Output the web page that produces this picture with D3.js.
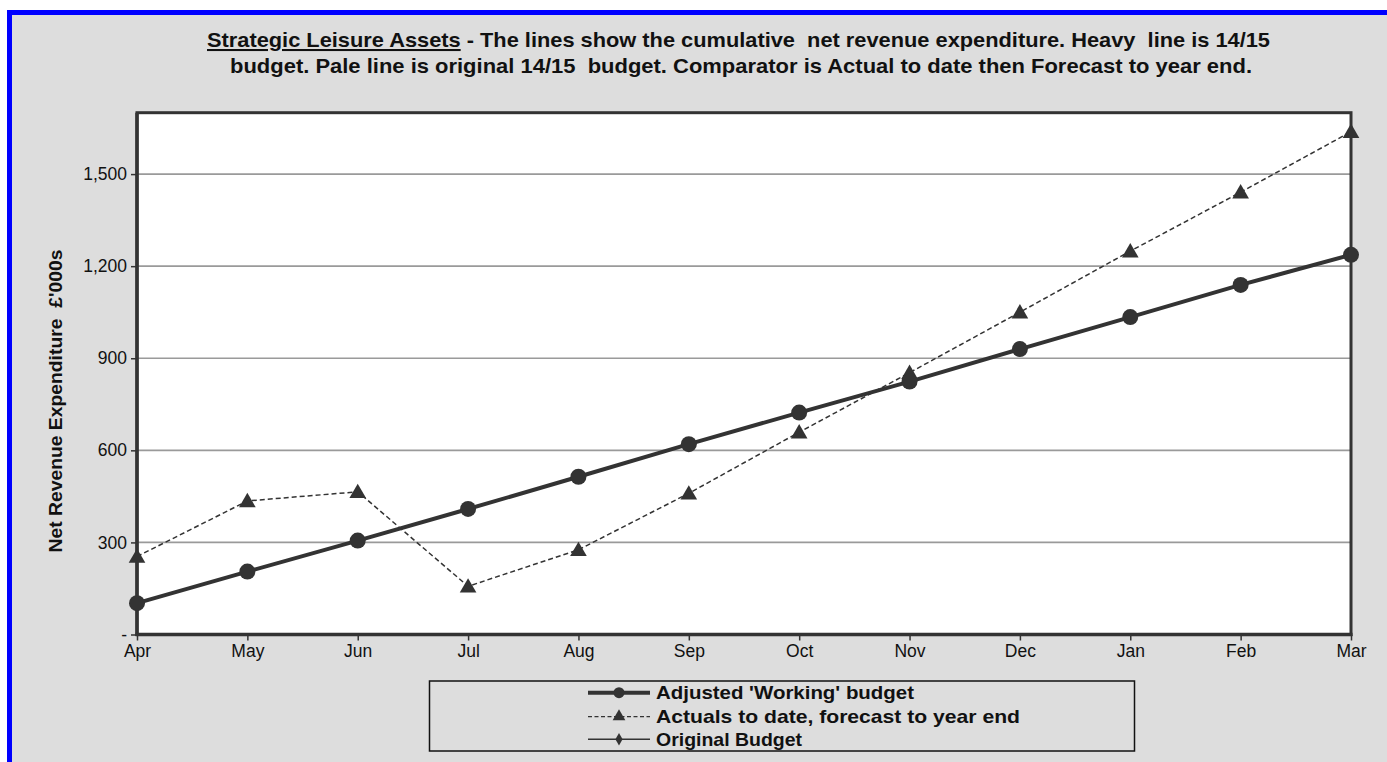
<!DOCTYPE html>
<html><head><meta charset="utf-8">
<script src="https://cdn.jsdelivr.net/npm/d3@7"></script>
<style>
html,body{margin:0;padding:0;background:#fff;}
svg{display:block;font-family:"Liberation Sans",Arial,sans-serif;}
</style></head>
<body>
<svg id="c" width="1387" height="762"></svg>
<script>
const months = ["Apr","May","Jun","Jul","Aug","Sep","Oct","Nov","Dec","Jan","Feb","Mar"];
const workingBudget = [102,205,306,409,514,620,723,824,930,1034,1139,1237];
const actualsForecast = [254,435,465,157,276,460,659,853,1050,1249,1441,1638];
const originalBudget = [102,205,306,409,514,620,723,824,930,1034,1139,1237];
const yTicks = [0,300,600,900,1200,1500];
const seriesNames = ["Adjusted 'Working' budget","Actuals to date, forecast to year end","Original Budget"];
const titleLine1Lead = "Strategic Leisure Assets";
const titleLine1Rest = " - The lines show the cumulative  net revenue expenditure. Heavy  line is 14/15";
const titleLine2 = "budget. Pale line is original 14/15  budget. Comparator is Actual to date then Forecast to year end.";
const yTitle = "Net Revenue Expenditure  \u00A3'000s";

const svg = d3.select("#c");
const ink = "#333333";

// frame
svg.append("rect").attr("x",7).attr("y",10).attr("width",1380).attr("height",752).attr("fill","#0000ff");
svg.append("rect").attr("x",12).attr("y",15).attr("width",1375).attr("height",747).attr("fill","#dddddd");

const L=137, R=1351, T=112.7, B=634.5;
const x = d3.scalePoint().domain(months).range([L,R]);
const y = d3.scaleLinear().domain([0,1700]).range([B,T]);

// plot area
svg.append("rect").attr("x",L).attr("y",T).attr("width",R-L).attr("height",B-T).attr("fill","#fff");

// gridlines
svg.append("g").selectAll("line").data(yTicks.filter(d=>d>0)).join("line")
  .attr("x1",L).attr("x2",R).attr("y1",d=>y(d)).attr("y2",d=>y(d))
  .attr("stroke","#9a9a9a").attr("stroke-width",1.6);

// frame border
svg.append("rect").attr("x",L).attr("y",T).attr("width",R-L).attr("height",B-T)
  .attr("fill","none").attr("stroke",ink).attr("stroke-width",3);

// axes
const yAxis = svg.append("g").attr("transform",`translate(${L},0)`)
  .call(d3.axisLeft(y).tickValues(yTicks).tickSize(6).tickPadding(4)
    .tickFormat(d=> d===0 ? "-" : d3.format(",")(d)));
yAxis.select(".domain").remove();
yAxis.selectAll("line").attr("stroke",ink).attr("stroke-width",1.5);
yAxis.selectAll("text").attr("font-size",17.5).attr("fill","#111").attr("font-family","Liberation Sans, Arial, sans-serif");

const xAxis = svg.append("g").attr("transform",`translate(0,${B})`)
  .call(d3.axisBottom(x).tickSize(6).tickPadding(4));
xAxis.select(".domain").remove();
xAxis.selectAll("line").attr("stroke",ink).attr("stroke-width",1.5);
xAxis.selectAll("text").attr("font-size",17.5).attr("fill","#111").attr("font-family","Liberation Sans, Arial, sans-serif");

// redraw left & bottom axis lines thick
svg.append("line").attr("x1",L).attr("x2",L).attr("y1",T).attr("y2",B+1.5).attr("stroke",ink).attr("stroke-width",3.5);
svg.append("line").attr("x1",L-1.5).attr("x2",R+1.5).attr("y1",B).attr("y2",B).attr("stroke",ink).attr("stroke-width",3.5);

const line = d3.line().x((d,i)=>x(months[i])).y(d=>y(d));
const tri = d3.symbol().type(d3.symbolTriangle).size(120);
const dia = d3.symbol().type(d3.symbolDiamond).size(60);

// original budget (beneath)
svg.append("path").datum(originalBudget).attr("d",line).attr("fill","none").attr("stroke",ink).attr("stroke-width",1.5);
svg.append("g").selectAll("path").data(originalBudget).join("path")
  .attr("d",dia).attr("transform",(d,i)=>`translate(${x(months[i])},${y(d)})`).attr("fill",ink);

// actuals
svg.append("path").datum(actualsForecast).attr("d",line).attr("fill","none").attr("stroke",ink)
  .attr("stroke-width",1.5).attr("stroke-dasharray","5,3");
svg.append("g").selectAll("path").data(actualsForecast).join("path")
  .attr("d",tri).attr("transform",(d,i)=>`translate(${x(months[i])},${y(d)+1.5})`).attr("fill",ink);

// working budget
svg.append("path").datum(workingBudget).attr("d",line).attr("fill","none").attr("stroke",ink).attr("stroke-width",4);
svg.append("g").selectAll("circle").data(workingBudget).join("circle")
  .attr("cx",(d,i)=>x(months[i])).attr("cy",d=>y(d)).attr("r",8).attr("fill",ink);

// title
const t1 = svg.append("text").attr("x",207).attr("y",47).attr("font-size",20.5).attr("font-weight","bold")
  .attr("fill","#111").style("white-space","pre")
  .attr("textLength",1063).attr("lengthAdjust","spacingAndGlyphs");
t1.append("tspan").attr("text-decoration","underline").text(titleLine1Lead);
t1.append("tspan").text(titleLine1Rest);
svg.append("text").attr("x",230).attr("y",72.5).attr("font-size",20.5).attr("font-weight","bold")
  .attr("fill","#111").style("white-space","pre")
  .attr("textLength",1022).attr("lengthAdjust","spacingAndGlyphs").text(titleLine2);

// y title
svg.append("text").attr("transform","translate(62,401) rotate(-90)").attr("text-anchor","middle")
  .attr("font-size",18).attr("font-weight","bold").attr("fill","#111").style("white-space","pre")
  .attr("textLength",303).attr("lengthAdjust","spacingAndGlyphs").text(yTitle);

// legend
svg.append("rect").attr("x",429.5).attr("y",681).attr("width",705).attr("height",70)
  .attr("fill","#dddddd").attr("stroke","#111").attr("stroke-width",1.5);
const rows=[692.7,716.7,739.3];
const lgWidths=[258,364,146];
const lg = svg.append("g");
seriesNames.forEach((name,i)=>{
  const yy=rows[i];
  const ln = lg.append("line").attr("x1",588).attr("x2",650).attr("y1",yy).attr("y2",yy).attr("stroke",ink);
  if(i===0){ ln.attr("stroke-width",4); lg.append("circle").attr("cx",619).attr("cy",yy).attr("r",5.5).attr("fill",ink); }
  if(i===1){ ln.attr("stroke-width",1.2).attr("stroke-dasharray","4,2.5");
    lg.append("path").attr("d",d3.symbol().type(d3.symbolTriangle).size(70)).attr("transform",`translate(619,${yy})`).attr("fill",ink); }
  if(i===2){ ln.attr("stroke-width",1.5);
    lg.append("path").attr("d",d3.symbol().type(d3.symbolDiamond).size(45)).attr("transform",`translate(619,${yy})`).attr("fill",ink); }
  lg.append("text").attr("x",656).attr("y",yy+6.5).attr("font-size",18.5).attr("font-weight","bold")
    .attr("fill","#111").attr("textLength",lgWidths[i]).attr("lengthAdjust","spacingAndGlyphs").text(name);
});
</script>
</body></html>
